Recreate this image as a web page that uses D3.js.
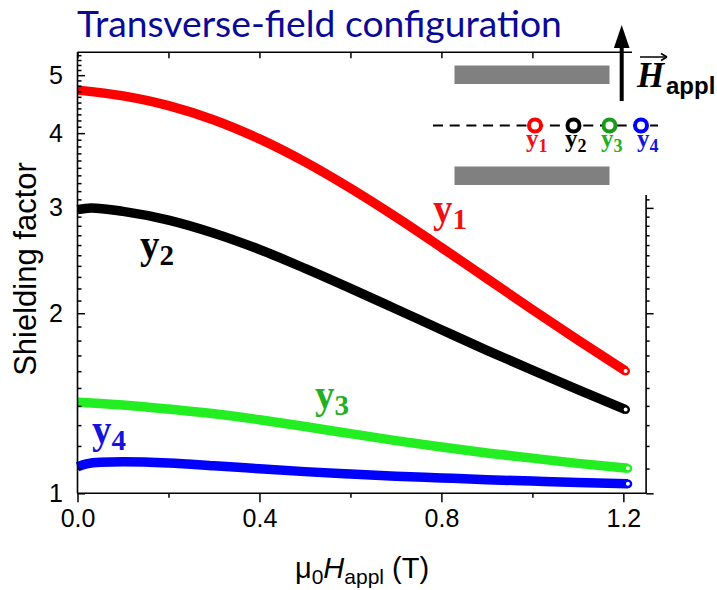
<!DOCTYPE html>
<html><head><meta charset="utf-8">
<script src="https://cdn.jsdelivr.net/npm/d3@7"></script>
<style>body{margin:0;background:#fff;} svg{display:block}</style>
</head><body>
<svg id="c" width="717" height="590"></svg>
<script>
// ---------------- data ----------------
const xMajorTicks = [0, 0.4, 0.8, 1.2];
const xMinorTicks = [0.2, 0.6, 1.0];
const xTopTicks = [0, 0.2, 0.4, 0.6, 0.8, 1.0];
const yMajorTicks = [1, 2, 3, 4, 5];
const seriesNames = ["y1", "y2", "y3", "y4"];

const y1X = [0, 0.1, 0.2, 0.3, 0.4, 0.5, 0.6, 0.7, 0.8, 0.9, 1.0, 1.1, 1.205];
const y1V = [4.72, 4.617, 4.447, 4.208, 3.912, 3.581, 3.235, 2.896, 2.576, 2.286, 2.028, 1.804, 1.601];

const y2X = [0, 0.03, 0.1, 0.2, 0.3, 0.4, 0.5, 0.6, 0.7, 0.8, 0.9, 1.0, 1.1, 1.205];
const y2V = [2.98, 3.00, 2.96, 2.862, 2.721, 2.556, 2.377, 2.201, 2.033, 1.877, 1.734, 1.606, 1.490, 1.380];

const y3X = [0, 0.1, 0.2, 0.3, 0.4, 0.5, 0.6, 0.7, 0.8, 0.9, 1.0, 1.1, 1.21];
const y3V = [1.42, 1.405, 1.383, 1.358, 1.327, 1.293, 1.258, 1.225, 1.195, 1.168, 1.145, 1.122, 1.101];

const y4X = [0, 0.02, 0.05, 0.1, 0.2, 0.3, 0.4, 0.5, 0.6, 0.7, 0.8, 0.9, 1.0, 1.1, 1.21];
const y4V = [1.108, 1.12, 1.127, 1.129, 1.124, 1.112, 1.099, 1.087, 1.077, 1.068, 1.061, 1.054, 1.048, 1.042, 1.037];

const lineColors = ["#ff0000", "#000000", "#22ee22", "#0000ff"];
const labelColors = ["#ee1111", "#000000", "#22b022", "#1414dd"];
const legendColors = ["#ff0000", "#000000", "#1a9a1a", "#0000ff"];

// ---------------- setup ----------------
const svg = d3.select("#c");
const L = 77.5, R = 646.1, T = 52.3, B = 493.3;
const x = d3.scaleLinear().domain([0, 1.25]).range([L, R]);
const y = d3.scaleLog().domain([1, 5.46]).range([B, T]);
const tickFont = "'Liberation Sans', Arial, sans-serif";

const yMinorTicks = d3.range(11, 55).map(v => v / 10).filter(v => v % 1 !== 0 && v <= 5.45);

// ---------------- title ----------------
const title = svg.append("text")
  .attr("x", 77).attr("y", 37)
  .attr("font-family", "Lato, 'Open Sans', sans-serif")
  .attr("font-size", 32).attr("fill", "#0a0a96")
  .text("Transverse-field configuration");
const tw = title.node().getComputedTextLength();
title.attr("font-size", 32 * 485 / tw);

// ---------------- data curves ----------------
const xsAll = [y1X, y2X, y3X, y4X];
const vsAll = [y1V, y2V, y3V, y4V];
const line = d3.line().x(d => x(d[0])).y(d => y(d[1])).curve(d3.curveMonotoneX);
const gData = svg.append("g");
xsAll.forEach((xs, i) => {
  const pts = xs.map((xv, j) => [xv, vsAll[i][j]]);
  gData.append("path").datum(pts)
    .attr("d", line).attr("fill", "none")
    .attr("stroke", lineColors[i]).attr("stroke-width", 9.5);
  const last = pts[pts.length - 1];
  gData.append("circle").attr("cx", x(last[0])).attr("cy", y(last[1]))
    .attr("r", 3.2).attr("fill", "#fff")
    .attr("stroke", lineColors[i]).attr("stroke-width", 2.4);
});

// ---------------- axes ----------------
function clean(g) { g.select(".domain").remove(); g.selectAll("line").attr("stroke", "#000").attr("stroke-width", 1.5); }

svg.append("g").attr("transform", `translate(0,${B})`)
  .call(d3.axisBottom(x).tickValues(xMajorTicks).tickFormat(d3.format(".1f")).tickSize(9).tickPadding(6.5))
  .call(clean)
  .call(g => g.selectAll("text").attr("font-family", tickFont).attr("font-size", 25).attr("fill", "#000"));
svg.append("g").attr("transform", `translate(0,${B})`)
  .call(d3.axisBottom(x).tickValues(xMinorTicks).tickFormat("").tickSize(4.5))
  .call(clean);
svg.append("g").attr("transform", `translate(0,${T})`)
  .call(d3.axisTop(x).tickValues(xTopTicks).tickFormat("").tickSize(-6))
  .call(clean);

svg.append("g").attr("transform", `translate(${L},0)`)
  .call(d3.axisLeft(y).tickValues(yMajorTicks).tickFormat(d3.format("d")).tickSize(-7.5).tickPadding(14.5))
  .call(clean)
  .call(g => g.selectAll("text").attr("font-family", tickFont).attr("font-size", 25).attr("fill", "#000"));
svg.append("g").attr("transform", `translate(${L},0)`)
  .call(d3.axisLeft(y).tickValues(yMinorTicks).tickFormat("").tickSize(-4))
  .call(clean);

const rightTop = 195;
svg.append("g").attr("transform", `translate(${R},0)`)
  .call(d3.axisRight(y).tickValues(yMajorTicks.filter(v => y(v) >= rightTop)).tickFormat("").tickSize(7.5))
  .call(clean);
svg.append("g").attr("transform", `translate(${R},0)`)
  .call(d3.axisRight(y).tickValues(yMinorTicks.filter(v => y(v) >= rightTop)).tickFormat("").tickSize(3.5))
  .call(clean);

const frame = svg.append("g").attr("stroke", "#000").attr("stroke-width", 1.6);
frame.append("line").attr("x1", L).attr("x2", L).attr("y1", T).attr("y2", B);
frame.append("line").attr("x1", L).attr("x2", R).attr("y1", B).attr("y2", B);
frame.append("line").attr("x1", L).attr("x2", 632).attr("y1", T).attr("y2", T);
frame.append("line").attr("x1", R).attr("x2", R).attr("y1", rightTop).attr("y2", B);

// axis titles
svg.append("text")
  .attr("transform", "translate(36,269) rotate(-90)")
  .attr("text-anchor", "middle")
  .attr("font-family", tickFont).attr("font-size", 31).attr("fill", "#000")
  .text("Shielding factor");

const xt = svg.append("text").attr("x", 362).attr("y", 578)
  .attr("text-anchor", "middle")
  .attr("font-family", tickFont).attr("font-size", 29).attr("fill", "#000");
xt.append("tspan").text("\u03bc");
xt.append("tspan").attr("font-size", 21).attr("dy", 6).text("0");
xt.append("tspan").attr("font-style", "italic").attr("dy", -6).text("H");
xt.append("tspan").attr("font-size", 21).attr("dy", 6).text("appl");
xt.append("tspan").attr("dy", -6).text(" (T)");

// ---------------- curve labels ----------------
const serif = "'Liberation Serif', 'Times New Roman', serif";
const labelPos = [[433, 222], [140, 258], [315, 408], [92, 443]];
seriesNames.forEach((n, i) => {
  const t = svg.append("text").attr("x", labelPos[i][0]).attr("y", labelPos[i][1])
    .attr("font-family", serif).attr("font-weight", "bold").attr("font-size", 39)
    .attr("fill", labelColors[i]);
  t.append("tspan").text("y");
  t.append("tspan").attr("font-size", 29).attr("dy", 7).text(n.slice(1));
});

// ---------------- inset ----------------
const inset = svg.append("g");
inset.append("rect").attr("x", 454.5).attr("y", 65.5).attr("width", 155).attr("height", 18.5).attr("fill", "#808080");
inset.append("rect").attr("x", 454.5).attr("y", 166.5).attr("width", 155).attr("height", 18.5).attr("fill", "#808080");
inset.append("line").attr("x1", 433).attr("x2", 658).attr("y1", 125.5).attr("y2", 125.5)
  .attr("stroke", "#000").attr("stroke-width", 2).attr("stroke-dasharray", "10,6.7");
const legendX = [535, 573.5, 609.5, 641];
const legendLabelX = [526, 565, 601, 637];
seriesNames.forEach((n, i) => {
  inset.append("circle").attr("cx", legendX[i]).attr("cy", 125.5).attr("r", 6)
    .attr("fill", "#fff").attr("stroke", legendColors[i]).attr("stroke-width", 4);
  const t = inset.append("text").attr("x", legendLabelX[i]).attr("y", 147)
    .attr("font-family", serif).attr("font-weight", "bold").attr("font-size", 25)
    .attr("fill", labelColors[i]);
  t.append("tspan").text("y");
  t.append("tspan").attr("font-size", 18).attr("dy", 5).text(n.slice(1));
});
// field arrow
inset.append("rect").attr("x", 619.7).attr("y", 45).attr("width", 4).attr("height", 56).attr("fill", "#000");
inset.append("path").attr("d", "M621.7,25 L629.5,48 L613.9,48 Z").attr("fill", "#000");
// H_appl with vector arrow
inset.append("text").attr("x", 637).attr("y", 87)
  .attr("font-family", serif).attr("font-weight", "bold").attr("font-style", "italic")
  .attr("font-size", 35).attr("fill", "#000").text("H");
inset.append("line").attr("x1", 640).attr("x2", 665).attr("y1", 57).attr("y2", 57)
  .attr("stroke", "#000").attr("stroke-width", 1.5);
inset.append("path").attr("d", "M667,57 L661,53.5 M667,57 L661,60.5").attr("stroke", "#000").attr("stroke-width", 1.5).attr("fill", "none");
inset.append("text").attr("x", 666).attr("y", 94)
  .attr("font-family", tickFont).attr("font-weight", "bold")
  .attr("font-size", 24).attr("fill", "#000").text("appl");
</script>
</body></html>
